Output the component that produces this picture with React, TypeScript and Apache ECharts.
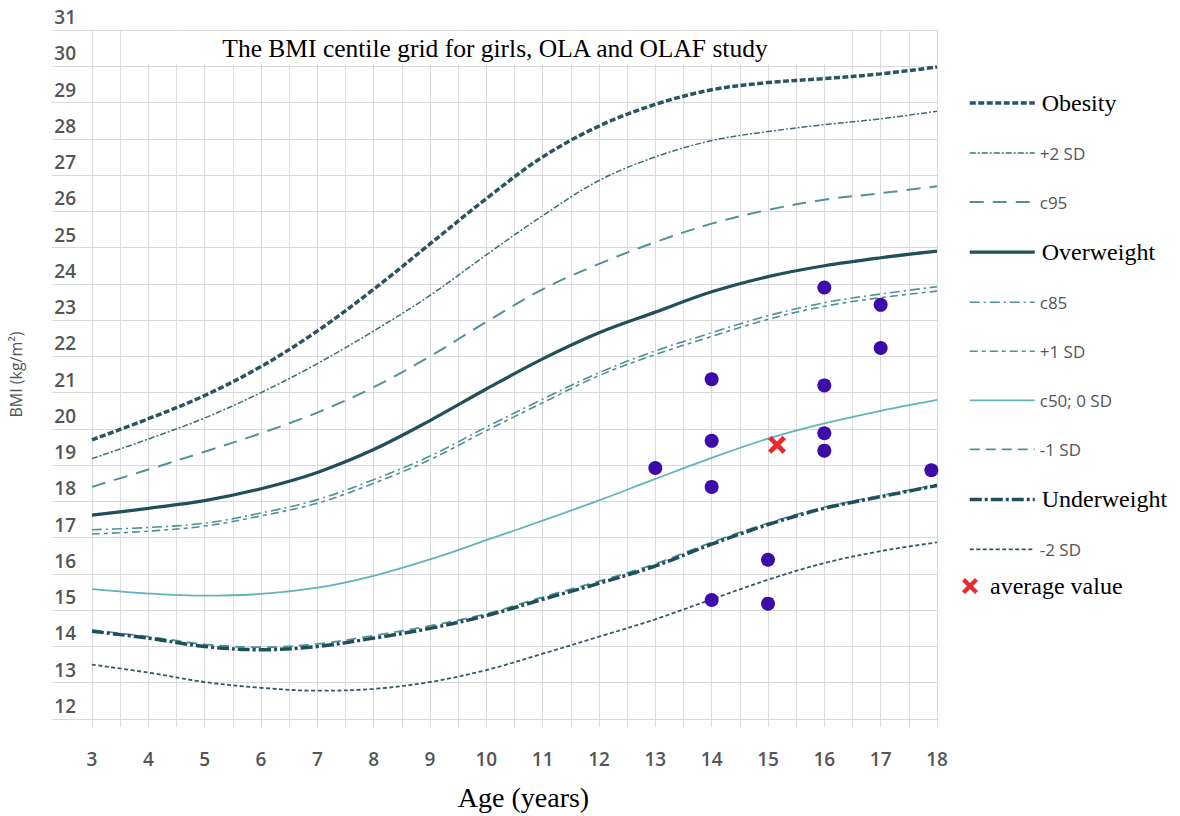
import React, { useEffect, useRef } from "react";
import * as echarts from "echarts";

// ---- data ----
const ages = [3, 4, 5, 6, 7, 8, 9, 10, 11, 12, 13, 14, 15, 16, 17, 18];
const obesity = [19.7, 20.28, 20.92, 21.72, 22.7, 23.85, 25.1, 26.35, 27.5, 28.35, 28.95, 29.35, 29.55, 29.66, 29.79, 29.98];
const plus2sd = [19.18, 19.72, 20.3, 21.0, 21.8, 22.7, 23.68, 24.8, 25.88, 26.85, 27.5, 27.95, 28.2, 28.39, 28.55, 28.76];
const c95 = [18.4, 18.88, 19.37, 19.88, 20.45, 21.15, 22.0, 22.95, 23.85, 24.55, 25.15, 25.66, 26.04, 26.32, 26.5, 26.69];
const overweight = [17.62, 17.81, 18.02, 18.35, 18.8, 19.43, 20.23, 21.1, 21.93, 22.65, 23.22, 23.78, 24.2, 24.5, 24.72, 24.9];
const c85 = [17.22, 17.28, 17.4, 17.68, 18.05, 18.6, 19.25, 20.05, 20.82, 21.55, 22.15, 22.65, 23.12, 23.48, 23.72, 23.92];
const plus1sd = [17.1, 17.18, 17.32, 17.6, 17.95, 18.5, 19.15, 19.95, 20.72, 21.47, 22.05, 22.55, 23.02, 23.38, 23.62, 23.8];
const c50 = [15.58, 15.46, 15.4, 15.45, 15.62, 15.95, 16.4, 16.93, 17.47, 18.03, 18.62, 19.2, 19.73, 20.15, 20.5, 20.8];
const minus1sd = [14.45, 14.27, 14.06, 13.98, 14.07, 14.3, 14.57, 14.9, 15.36, 15.8, 16.28, 16.87, 17.4, 17.84, 18.16, 18.46];
const underweight = [14.42, 14.23, 14.0, 13.91, 14.0, 14.23, 14.5, 14.85, 15.3, 15.74, 16.22, 16.82, 17.36, 17.81, 18.13, 18.44];
const minus2sd = [13.5, 13.28, 13.02, 12.86, 12.78, 12.83, 13.02, 13.35, 13.8, 14.27, 14.75, 15.3, 15.84, 16.3, 16.63, 16.87];

const pointAges = [13, 14, 14, 14, 14, 15, 15, 16, 16, 16, 16, 17, 17, 17.9];
const pointBmi = [18.92, 21.37, 19.67, 18.4, 15.28, 16.39, 15.18, 23.9, 21.2, 19.88, 19.4, 23.42, 22.23, 18.86];
const averageAge = [15.16];
const averageBmi = [19.56];

const xTicks = { min: 3, max: 18, interval: 1 };
const yTicks = { min: 12, max: 31, interval: 1 };

const TITLE = "The BMI centile grid for girls, OLA and OLAF study";
const SERIF = "'Liberation Serif', 'Times New Roman', serif";
const SANS = "'Open Sans', 'Noto Sans', sans-serif";
const X_PATH =
  "path://M3,0 L8,5 L13,0 L16,3 L11,8 L16,13 L13,16 L8,11 L3,16 L0,13 L5,8 L0,3 Z";

type LineDef = {
  name: string;
  data: number[];
  color: string;
  width: number;
  dash: any;
  serif: boolean;
};

const lines: LineDef[] = [
  { name: "Obesity", data: obesity, color: "#2a5560", width: 3.5, dash: [6, 2.5], serif: true },
  { name: "+2 SD", data: plus2sd, color: "#3a6c76", width: 1.5, dash: [6, 2, 2, 2], serif: false },
  { name: "c95", data: c95, color: "#52909a", width: 2, dash: [14, 9], serif: false },
  { name: "Overweight", data: overweight, color: "#21505a", width: 3.2, dash: "solid", serif: true },
  { name: "c85", data: c85, color: "#4d9199", width: 1.6, dash: [10, 4, 2, 4], serif: false },
  { name: "+1 SD", data: plus1sd, color: "#4d8f98", width: 1.6, dash: [8, 4, 4, 4], serif: false },
  { name: "c50; 0 SD", data: c50, color: "#62b3bb", width: 1.8, dash: "solid", serif: false },
  { name: "-1 SD", data: minus1sd, color: "#4d9199", width: 1.8, dash: [10, 6], serif: false },
  { name: "Underweight", data: underweight, color: "#1f4f5a", width: 3.5, dash: [12, 3, 3, 3], serif: true },
  { name: "-2 SD", data: minus2sd, color: "#2f5a64", width: 1.8, dash: [4, 2.5], serif: false },
];

export default function App() {
  const ref = useRef<HTMLDivElement>(null);

  useEffect(() => {
    if (!ref.current) return;
    const chart = echarts.init(ref.current, undefined, { renderer: "svg" });

    const lineSeries = lines.map((l, idx) => ({
      type: "line",
      name: l.name,
      data: ages.map((a, i) => [a, l.data[i]]),
      smooth: 0.35,
      symbol: "none",
      silent: true,
      z: 3 + idx,
      lineStyle: { color: l.color, width: l.width, type: l.dash },
      itemStyle: { color: l.color },
    }));

    const gridColor = "#d9d9d9";

    chart.setOption({
      animation: false,
      backgroundColor: "#ffffff",
      grid: { left: 88, right: 243, top: 30, bottom: 80, containLabel: false },
      graphic: [
        {
          type: "rect",
          z: 1,
          shape: { x: 143, y: 31, width: 703, height: 33 },
          style: { fill: "#ffffff" },
          silent: true,
        },
        {
          type: "text",
          z: 2,
          x: 495,
          y: 48,
          style: {
            text: TITLE,
            fontFamily: SERIF,
            fontSize: 25.5,
            fill: "#000000",
            align: "center",
            verticalAlign: "middle",
          },
          silent: true,
        },
      ],
      xAxis: {
        type: "value",
        min: xTicks.min,
        max: xTicks.max,
        interval: xTicks.interval,
        name: "Age (years)",
        nameLocation: "middle",
        nameGap: 64,
        nameTextStyle: { fontFamily: SERIF, fontSize: 28, color: "#000", padding: [0, 0, 0, 18] },
        axisLine: { show: true, lineStyle: { color: gridColor } },
        axisTick: { show: true, length: 8, lineStyle: { color: gridColor } },
        minorTick: { show: true, splitNumber: 2, length: 8, lineStyle: { color: gridColor } },
        splitLine: { show: true, lineStyle: { color: gridColor, width: 1 } },
        minorSplitLine: { show: true, lineStyle: { color: "#dedede", width: 1 } },
        axisLabel: {
          margin: 30,
          fontFamily: SANS,
          fontSize: 19,
          fontWeight: 600,
          color: "#555",
          lineHeight: 20,
        },
      },
      yAxis: {
        type: "value",
        min: yTicks.min,
        max: yTicks.max,
        interval: yTicks.interval,
        name: "BMI (kg/m²)",
        nameLocation: "middle",
        nameGap: 68,
        nameTextStyle: { fontFamily: SANS, fontSize: 16, color: "#555" },
        axisLine: { show: true, lineStyle: { color: gridColor } },
        axisTick: { show: true, length: 40, lineStyle: { color: gridColor } },
        splitLine: { show: true, lineStyle: { color: gridColor, width: 1 } },
        axisLabel: {
          margin: 16,
          fontFamily: SANS,
          fontSize: 19,
          fontWeight: 600,
          color: "#555",
          verticalAlign: "bottom",
          lineHeight: 20,
          padding: [0, 0, 3, 0],
        },
      },
      legend: [
        {
          orient: "vertical",
          left: 963,
          top: 86,
          itemWidth: 65,
          itemHeight: 14,
          itemGap: 27.05,
          selectedMode: false,
          lineStyle: { width: "inherit" },
          itemStyle: { opacity: 0, borderWidth: 0 },
          data: lines.map((l) => ({
            name: l.name,
            textStyle: l.serif
              ? { fontFamily: SERIF, fontSize: 24, color: "#000", lineHeight: 22, padding: [0, 0, 0, 2] }
              : { fontFamily: SANS, fontSize: 17, color: "#555", lineHeight: 22 },
          })),
        },
        {
          orient: "vertical",
          left: 957,
          top: 569,
          itemWidth: 16,
          itemHeight: 16,
          selectedMode: false,
          data: [
            {
              name: "average value",
              icon: X_PATH,
              itemStyle: { color: "#e52b2b" },
              textStyle: {
                fontFamily: SERIF,
                fontSize: 24,
                color: "#000",
                lineHeight: 22,
                padding: [0, 0, 0, 7],
              },
            },
          ],
        },
      ],
      series: [
        ...lineSeries,
        {
          type: "scatter",
          name: "points",
          data: pointAges.map((a, i) => [a, pointBmi[i]]),
          symbol: "circle",
          symbolSize: 14,
          silent: true,
          z: 20,
          itemStyle: { color: "#3c0ba8", opacity: 1 },
        },
        {
          type: "scatter",
          name: "average value",
          data: averageAge.map((a, i) => [a, averageBmi[i]]),
          symbol: X_PATH,
          symbolSize: 18,
          silent: true,
          z: 21,
          itemStyle: { color: "#e52b2b", opacity: 1 },
        },
      ],
    });

    return () => chart.dispose();
  }, []);

  return (
    <div
      ref={ref}
      style={{ position: "fixed", left: 0, top: 0, width: 1180, height: 816, background: "#fff" }}
    />
  );
}
